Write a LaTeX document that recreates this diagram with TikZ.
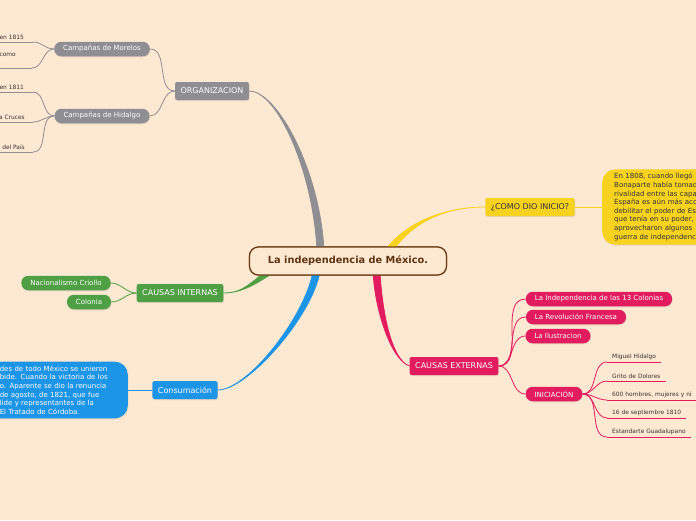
\documentclass[tikz,border=0pt]{standalone}
\usepackage{fontspec}
\setmainfont{DejaVu Sans}
\usepackage{tikz}
\usetikzlibrary{calc,positioning,shadows}

\definecolor{fondo}{HTML}{FDE8D2}
\definecolor{cafe}{HTML}{6E3D14}
\definecolor{gris}{HTML}{8E8E93}
\definecolor{verde}{HTML}{4FA044}
\definecolor{azul}{HTML}{1C95E6}
\definecolor{rosa}{HTML}{E31B5F}
\definecolor{amarillo}{HTML}{F7D21F}
\definecolor{texto}{HTML}{333333}

\tikzset{
  raiz/.style={draw=cafe, line width=1.2pt, fill=fondo, rounded corners=9pt,
    minimum width=197pt, minimum height=28pt, font=\fontsize{9.8}{11}\selectfont\bfseries, text=cafe!85!black},
  tema/.style={fill=#1, rounded corners=2pt, text=white, minimum height=18pt, inner xsep=5.5pt,
    font=\fontsize{8}{9.5}\selectfont, drop shadow={shadow xshift=0.6pt, shadow yshift=-1pt, opacity=0.2}},
  pildora/.style={fill=#1, rounded corners=7pt, text=white, minimum height=14.5pt, inner xsep=9pt,
    font=\fontsize{7}{8}\selectfont, drop shadow={shadow xshift=0.6pt, shadow yshift=-1pt, opacity=0.2}},
  nota/.style={fill=#1, rounded corners=13pt, align=left, inner xsep=12pt, inner ysep=4pt,
    font=\fontsize{7}{8.6}\selectfont, drop shadow={shadow xshift=0.6pt, shadow yshift=-1pt, opacity=0.2}},
  hoja/.style={inner xsep=5pt, inner ysep=2.5pt, text=texto, font=\fontsize{5.9}{7}\selectfont,
    append after command={(\tikzlastnode.south west) edge[draw=#1, line width=0.8pt] (\tikzlastnode.south east)}},
  rama/.style={draw=#1, line width=0.8pt},
}

\begin{document}
\begin{tikzpicture}[x=1pt, y=-1pt]
  \useasboundingbox (0,0) rectangle (696,520);
  \fill[fondo] (0,0) rectangle (696,520);

  % centro y temas
  \node[raiz] (root) at (348,261) {La independencia de México.};
  \node[tema=gris] (org) at (212,91) {ORGANIZACION};
  \node[tema=amarillo, text=texto] (inicio) at (530,207) {¿COMO DIO INICIO?};
  \node[tema=verde] (internas) at (180,293) {CAUSAS INTERNAS};
  \node[tema=azul] (consuma) at (185,390) {Consumación};
  \node[tema=rosa] (externas) at (454,366) {CAUSAS EXTERNAS};

  % ramas principales
  \filldraw[gris, line width=0.8pt] (org.east) .. controls +(28,0) and +(-4,-80) .. ($(root.north)+(-31,4)$)
      -- ++(7,0) .. controls +(-4,-80) and +(28,0) .. (org.east) -- cycle;
  \filldraw[amarillo, line width=0.8pt] (inicio.west) .. controls +(-45,0) and +(18,-25) .. ($(root.north)+(37,4)$)
      -- ++(8,0) .. controls +(18,-25) and +(-45,0) .. (inicio.west) -- cycle;
  \filldraw[verde, line width=0.8pt] (internas.east) .. controls +(22,0) and +(-15,8) .. ($(root.south)+(-81,-4)$)
      -- ++(9,0) .. controls +(-15,8) and +(22,0) .. (internas.east) -- cycle;
  \filldraw[azul, line width=0.8pt] (consuma.east) .. controls +(30,0) and +(-8,45) .. ($(root.south)+(-35,-4)$)
      -- ++(7,0) .. controls +(-8,45) and +(30,0) .. (consuma.east) -- cycle;
  \filldraw[rosa, line width=0.8pt] (externas.west) .. controls +(-18,-6) and +(2,40) .. ($(root.south)+(25,-4)$)
      -- ++(7,0) .. controls +(2,40) and +(-18,-6) .. (externas.west) -- cycle;
  \node[raiz] at (root) {La independencia de México.};

  % ORGANIZACION
  \node[pildora=gris] (morelos) at (102,49) {Campañas de Morelos};
  \node[pildora=gris] (hidalgo) at (102,116) {Campañas de Hidalgo};
  \draw[rama=gris] (org.west) to[out=180, in=0] (morelos.east);
  \draw[rama=gris] (org.west) to[out=180, in=0] (hidalgo.east);

  \node[hoja=gris, anchor=south east, inner xsep=9pt] (mo1) at (33,42) {en 1815};
  \node[hoja=gris, anchor=south east, inner xsep=16pt, text depth=9pt] (mo2) at (32,68) {como};
  \node[hoja=gris, anchor=south east, inner xsep=9pt] (hi1) at (33,92) {en 1811};
  \node[hoja=gris, anchor=south east, inner xsep=8pt] (hi2) at (33,122) {a Cruces};
  \node[hoja=gris, anchor=south east, inner xsep=8pt] (hi3) at (33,152) {del País};
  \draw[rama=gris] (morelos.west) to[out=180, in=0] (mo1.south east);
  \draw[rama=gris] (morelos.west) to[out=180, in=0] (mo2.south east);
  \draw[rama=gris] (hidalgo.west) to[out=180, in=0] (hi1.south east);
  \draw[rama=gris] (hidalgo.west) to[out=180, in=0] (hi2.south east);
  \draw[rama=gris] (hidalgo.west) to[out=180, in=0] (hi3.south east);

  % ¿COMO DIO INICIO?
  \node[nota=amarillo, text=texto, anchor=west, text width=110pt] (nota1) at (602,207)
    {En 1808, cuando llegó\\Bonaparte había tomad\\rivalidad entre las capa\\España es aún más acc\\debilitar el poder de Es\\que tenía en su poder,\\aprovecharon algunos\\guerra de independenc};
  \draw[rama=amarillo] (inicio.east) -- (nota1.west);

  % CAUSAS INTERNAS
  \node[pildora=verde] (criollo) at (66,283) {Nacionalismo Criollo};
  \node[pildora=verde] (colonia) at (89,302) {Colonia};
  \draw[rama=verde] (internas.west) to[out=180, in=0] (criollo.east);
  \draw[rama=verde] (internas.west) to[out=180, in=0] (colonia.east);

  % Consumacion
  \node[nota=azul, text=white, anchor=east, text width=116pt] (nota2) at (128,390)
    {des de todo México se unieron\\bide. Cuando la victoria de los\\o. Aparente se dio la renuncia\\ de agosto, de 1821, que fue\\ lide y representantes de la\\ El Tratado de Córdoba.};
  \draw[rama=azul] (consuma.west) -- (nota2.east);

  % CAUSAS EXTERNAS
  \node[pildora=rosa] (trece) at (599,299) {La Independencia de las 13 Colonias};
  \node[pildora=rosa] (francesa) at (576,317) {La Revolución Francesa};
  \node[pildora=rosa] (ilustra) at (558,336) {La Ilustracion};
  \node[pildora=rosa] (inicia) at (554,394) {INICIACIÓN};
  \foreach \n in {trece, francesa, ilustra, inicia}
    \draw[rama=rosa] (externas.east) to[out=0, in=180] (\n.west);

  \node[hoja=rosa, anchor=south west] (ini1) at (607,362) {Miguel Hidalgo};
  \node[hoja=rosa, anchor=south west, text width=49pt, align=left] (ini2) at (607,381) {Grito de Dolores};
  \node[hoja=rosa, anchor=south west, text width=100pt, align=left] (ini3) at (607,400) {600 hombres, mujeres y ni};
  \node[hoja=rosa, anchor=south west] (ini4) at (607,418) {16 de septiembre 1810};
  \node[hoja=rosa, anchor=south west] (ini5) at (607,437) {Estandarte Guadalupano};
  \foreach \n in {ini1, ini2, ini3, ini4, ini5}
    \draw[rama=rosa] (inicia.east) to[out=0, in=180] (\n.south west);
\end{tikzpicture}
\end{document}
